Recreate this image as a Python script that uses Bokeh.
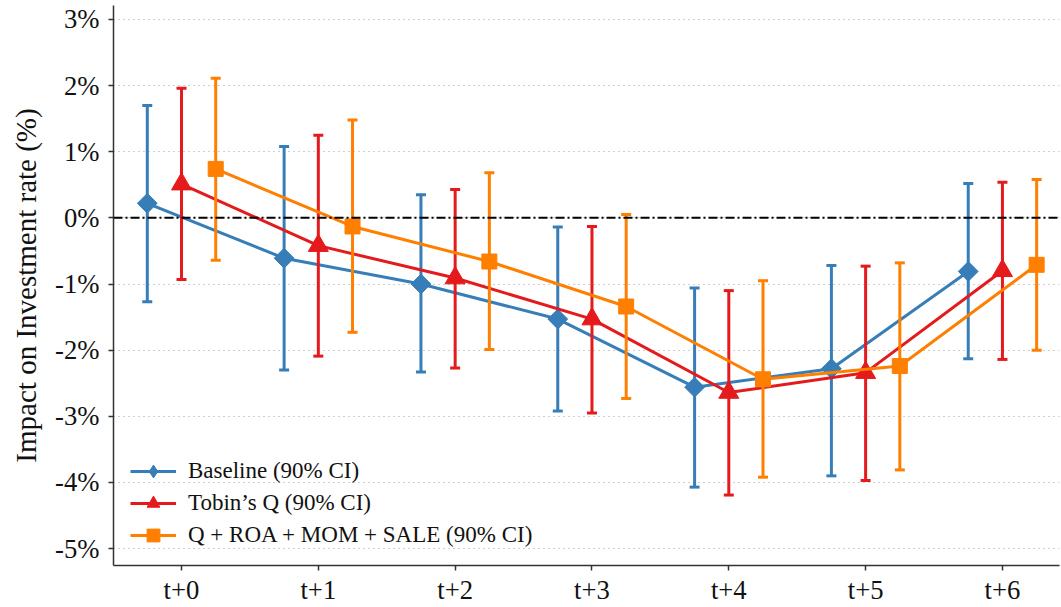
import numpy as np
from bokeh.plotting import figure
from bokeh.models import (ColumnDataSource, FixedTicker, PrintfTickFormatter, Span,
                          Legend, LegendItem, Range1d, LinearAxis)
from bokeh.embed import file_html
from bokeh.resources import INLINE

periods = ["t+0", "t+1", "t+2", "t+3", "t+4", "t+5", "t+6"]

baseline = [0.22, -0.61, -1.00, -1.53, -2.56, -2.28, -0.81]
baseline_lo = [-1.27, -2.30, -2.33, -2.92, -4.07, -3.90, -2.13]
baseline_hi = [1.70, 1.08, 0.35, -0.14, -1.06, -0.72, 0.52]

tobin = [0.51, -0.42, -0.91, -1.53, -2.64, -2.34, -0.80]
tobin_lo = [-0.93, -2.09, -2.27, -2.95, -4.19, -3.97, -2.14]
tobin_hi = [1.96, 1.25, 0.43, -0.13, -1.10, -0.73, 0.54]

ctrl = [0.74, -0.13, -0.66, -1.34, -2.44, -2.24, -0.71]
ctrl_lo = [-0.64, -1.73, -1.99, -2.73, -3.92, -3.81, -2.00]
ctrl_hi = [2.11, 1.48, 0.68, 0.05, -0.95, -0.68, 0.58]

y_ticks = [-5, -4, -3, -2, -1, 0, 1, 2, 3]

labels = ["Baseline (90% CI)", "Tobin\u2019s Q (90% CI)", "Q + ROA + MOM + SALE (90% CI)"]
colors = ["#377eb8", "#e41a1c", "#ff7f00"]
offsets = [-0.25, 0.0, 0.25]

FONT = "Liberation Serif"

p = figure(width=1061, height=607, output_backend="svg", toolbar_location=None,
           x_range=Range1d(-0.497, 6.417), y_range=Range1d(-5.255, 3.21),
           x_axis_location=None, y_axis_location=None,
           min_border_left=113, min_border_top=5, min_border_right=2, min_border_bottom=37)
p.outline_line_color = None
p.background_fill_color = "white"
p.border_fill_color = "white"

axis_style = dict(
    axis_line_color="#333333", axis_line_width=1.5,
    major_tick_line_color="#333333", major_tick_line_width=1.5,
    major_tick_out=5, major_tick_in=0, minor_tick_line_color=None,
)

xaxis = LinearAxis(ticker=FixedTicker(ticks=list(range(len(periods)))),
                   major_label_overrides={i: s for i, s in enumerate(periods)},
                   major_label_standoff=4,
                   major_label_text_font="serif", major_label_text_font_size="20pt",
                   major_label_text_color="#111111", **axis_style)
yaxis = LinearAxis(ticker=FixedTicker(ticks=y_ticks),
                   formatter=PrintfTickFormatter(format="%d%%"),
                   major_label_standoff=9,
                   major_label_text_font="serif", major_label_text_font_size="20pt",
                   major_label_text_color="#111111",
                   axis_label="Impact on Investment rate (%)",
                   axis_label_text_font=FONT, axis_label_text_font_size="29px",
                   axis_label_text_font_style="normal", axis_label_text_color="#111111",
                   axis_label_standoff=10, **axis_style)
p.add_layout(xaxis, "below")
p.add_layout(yaxis, "left")

p.xgrid.grid_line_color = None
p.ygrid.ticker = FixedTicker(ticks=y_ticks)
p.ygrid.grid_line_color = "#a0a0a0"
p.ygrid.grid_line_dash = "1 4"
p.ygrid.grid_line_width = 1

zero = Span(location=0, dimension="width", line_color="black", line_width=2,
            line_dash="9 3 2 3")
p.add_layout(zero)

series = [(baseline, baseline_lo, baseline_hi), (tobin, tobin_lo, tobin_hi), (ctrl, ctrl_lo, ctrl_hi)]
markers = [("square", 14, np.pi / 4), ("triangle", 20, 0.0), ("square", 15, 0.0)]
legend_markers = ["diamond", "triangle", "square"]
items = []
xi = np.arange(len(periods))
for (y, lo, hi), col, off, (mk, sz, ang), lmk, lab in zip(series, colors, offsets, markers,
                                                         legend_markers, labels):
    src = ColumnDataSource(dict(x=xi + off, y=y, lo=lo, hi=hi))
    p.segment(x0="x", y0="lo", x1="x", y1="hi", source=src, line_color=col, line_width=3)
    p.scatter(x="x", y="lo", source=src, marker="dash", size=10, line_color=col, line_width=3)
    p.scatter(x="x", y="hi", source=src, marker="dash", size=10, line_color=col, line_width=3)
    lr = p.line(x="x", y="y", source=src, line_color=col, line_width=3)
    sr = p.scatter(x="x", y="y", source=src, marker=mk, size=sz, angle=ang,
                   fill_color=col, line_color=col, line_width=1)
    # legend swatch marker (a NaN point, so nothing is drawn in the plot)
    leg = p.scatter(x=[0.0], y=[np.nan], marker=lmk, fill_color=col, line_color=col, line_width=1)
    items.append(LegendItem(label=lab, renderers=[lr, leg]))

legend = Legend(items=items, location=(17, 14))
legend.label_text_font = FONT
legend.label_text_font_size = "23px"
legend.label_text_color = "#111111"
legend.glyph_width = 46
legend.glyph_height = 32
legend.label_height = 26
legend.spacing = 0
legend.padding = 0
legend.margin = 0
legend.label_standoff = 12
legend.border_line_color = None
legend.background_fill_alpha = 0
p.add_layout(legend)

open("out.html", "w").write(file_html(p, INLINE))
